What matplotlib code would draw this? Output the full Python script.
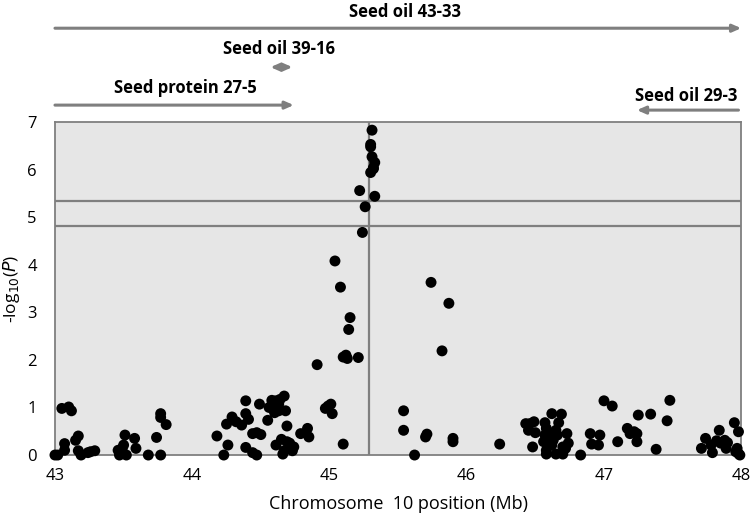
import matplotlib.pyplot as plt

plt.rcParams["font.family"] = ["Open Sans", "DejaVu Sans"]

# Chromosome 10 position (Mb) and -log10(P) of each marker
POS = [
    43.00, 43.02, 43.05, 43.10, 43.12, 43.07, 43.07, 43.17, 43.15, 43.17,
    43.19, 43.24, 43.29, 43.26, 43.46, 43.47, 43.50, 43.49, 43.51, 43.52,
    43.58, 43.59, 43.68, 43.74, 43.77, 43.77, 43.77, 43.81, 44.18, 44.23,
    44.26, 44.25, 44.29, 44.32, 44.36, 44.39, 44.39, 44.41, 44.39, 44.44,
    44.47, 44.44, 44.47, 44.50, 44.49, 44.55, 44.56, 44.58, 44.61, 44.60,
    44.63, 44.64, 44.67, 44.60, 44.63, 44.68, 44.69, 44.61, 44.65, 44.69,
    44.71, 44.74, 44.73, 44.66, 44.67, 44.79, 44.84, 44.85, 44.99, 45.01,
    44.97, 45.02, 45.10, 44.91, 45.12, 45.10, 45.13, 45.21, 45.14, 45.15,
    45.08, 45.04, 45.24, 45.26, 45.33, 45.22, 45.30, 45.32, 45.32, 45.33,
    45.31, 45.30, 45.30, 45.31,
    45.74, 45.87, 45.82, 45.54, 45.54, 45.62, 45.71, 45.70, 45.90, 45.90,
    46.24, 46.43, 46.46, 46.49, 46.45, 46.50, 46.48, 46.57, 46.58, 46.57,
    46.56, 46.58, 46.58, 46.62, 46.69, 46.67, 46.61, 46.65, 46.66, 46.63,
    46.62, 46.65, 46.70, 46.72, 46.74, 46.70, 46.73, 46.83, 46.90, 46.91,
    46.96, 46.97, 47.00, 47.06, 47.10, 47.17, 47.19, 47.22, 47.24, 47.24,
    47.25, 47.34, 47.38, 47.46, 47.48, 47.71, 47.74, 47.78, 47.79, 47.82,
    47.84, 47.85, 47.88, 47.89, 47.90, 47.95, 47.98, 47.97, 47.98, 47.99,
    47.96,
]
LOGP = [
    0.00, 0.00, 0.98, 1.01, 0.93, 0.24, 0.10, 0.40, 0.31, 0.09,
    0.00, 0.05, 0.09, 0.07, 0.10, 0.00, 0.21, 0.14, 0.42, 0.00,
    0.35, 0.14, 0.00, 0.37, 0.00, 0.79, 0.87, 0.64, 0.40, 0.00,
    0.21, 0.65, 0.80, 0.70, 0.63, 1.14, 0.87, 0.75, 0.16, 0.05,
    0.00, 0.45, 0.47, 0.43, 1.07, 0.73, 1.00, 1.15, 1.14, 1.00,
    1.07, 1.17, 1.24, 0.89, 0.93, 0.93, 0.61, 0.21, 0.33, 0.28,
    0.25, 0.17, 0.09, 0.02, 0.09, 0.45, 0.56, 0.38, 1.03, 1.07,
    0.98, 0.87, 0.23, 1.90, 2.10, 2.06, 2.03, 2.05, 2.64, 2.89,
    3.53, 4.08, 4.68, 5.22, 5.44, 5.56, 5.94, 6.02, 6.04, 6.15,
    6.27, 6.48, 6.53, 6.83,
    3.63, 3.19, 2.19, 0.93, 0.52, 0.00, 0.44, 0.38, 0.35, 0.28,
    0.23, 0.66, 0.66, 0.70, 0.52, 0.47, 0.17, 0.68, 0.56, 0.42,
    0.28, 0.10, 0.02, 0.87, 0.86, 0.68, 0.45, 0.52, 0.42, 0.31,
    0.21, 0.02, 0.02, 0.14, 0.25, 0.17, 0.45, 0.00, 0.45, 0.23,
    0.21, 0.42, 1.14, 1.03, 0.28, 0.56, 0.45, 0.49, 0.45, 0.28,
    0.84, 0.86, 0.12, 0.72, 1.15, 0.14, 0.35, 0.21, 0.05, 0.30,
    0.52, 0.25, 0.31, 0.14, 0.26, 0.68, 0.49, 0.14, 0.03, 0.00,
    0.07,
]

THRESHOLDS = [5.35, 4.82]
PEAK_POS = 45.29

# QTL intervals: (label, start, end, arrow style)
QTLS = [
    ("Seed oil 43-33", 43.0, 48.0, "-|>"),
    ("Seed oil 39-16", 44.57, 44.73, "<|-|>"),
    ("Seed protein 27-5", 43.0, 44.74, "-|>"),
    ("Seed oil 29-3", 47.98, 47.24, "-|>"),
]
QTL_ARROW_Y = [1.282, 1.165, 1.051, 1.036]
QTL_LABEL_XY = [(45.55, 1.332), (44.63, 1.219), (43.95, 1.102), (47.60, 1.078)]

GREY = "#7f7f7f"

fig = plt.figure(figsize=(7.5, 5.13), dpi=100)
ax = fig.add_axes([0.0733, 0.113, 0.915, 0.649])
ax.set_facecolor("#e6e6e6")

for t in THRESHOLDS:
    ax.axhline(t, color=GREY, lw=1.6, zorder=1)
ax.axvline(PEAK_POS, color=GREY, lw=1.6, zorder=1)

ax.scatter(POS, LOGP, s=62, color="black", edgecolors="none", zorder=3, clip_on=False)

ax.set_xlim(43, 48)
ax.set_ylim(0, 7)
ax.set_xticks(range(43, 49))
ax.set_yticks(range(0, 8))
ax.tick_params(length=0, labelsize=12, pad=9)
ax.tick_params(axis="y", pad=13)
for s in ax.spines.values():
    s.set_color(GREY)
    s.set_linewidth(1.3)

ax.set_xlabel("Chromosome  10 position (Mb)", fontsize=13, labelpad=8)
ax.set_ylabel(r"-log$_{10}$($P$)", fontsize=12.5, labelpad=4)

for (label, x0, x1, style), y, (lx, ly) in zip(QTLS, QTL_ARROW_Y, QTL_LABEL_XY):
    ax.annotate(
        "", xy=(x1, y), xytext=(x0, y),
        xycoords=("data", "axes fraction"), textcoords=("data", "axes fraction"),
        arrowprops=dict(arrowstyle=style + ",head_length=0.5,head_width=0.22",
                        color=GREY, lw=2.2, shrinkA=0, shrinkB=0),
        annotation_clip=False,
    )
    ax.text(lx, ly, label, transform=ax.get_xaxis_transform(),
            ha="center", va="center", fontsize=12, fontweight="bold")

fig.savefig("out.png", dpi=100)
